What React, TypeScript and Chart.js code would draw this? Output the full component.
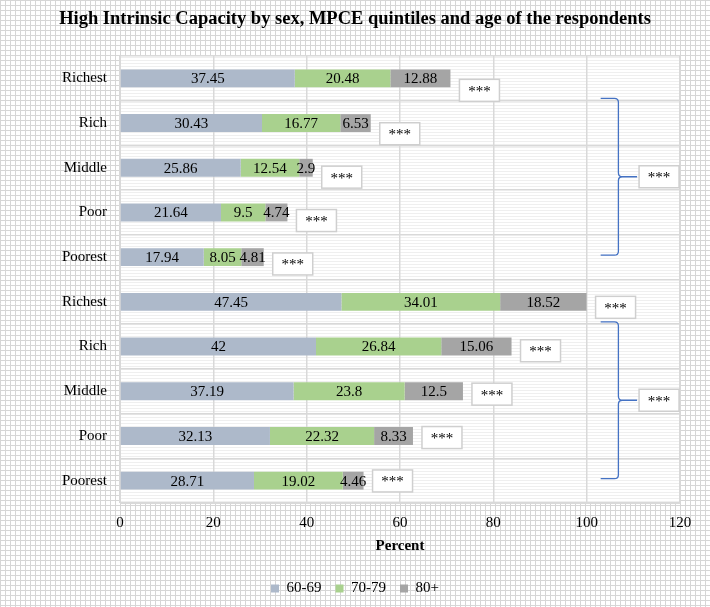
import React, { useEffect, useRef } from 'react';
import { Chart, registerables } from 'chart.js';

Chart.register(...registerables);

// ---------- data ----------
const categories = ['Richest', 'Rich', 'Middle', 'Poor', 'Poorest', 'Richest', 'Rich', 'Middle', 'Poor', 'Poorest'];
const age60to69 = [37.45, 30.43, 25.86, 21.64, 17.94, 47.45, 42, 37.19, 32.13, 28.71];
const age70to79 = [20.48, 16.77, 12.54, 9.5, 8.05, 34.01, 26.84, 23.8, 22.32, 19.02];
const age80plus = [12.88, 6.53, 2.9, 4.74, 4.81, 18.52, 15.06, 12.5, 8.33, 4.46];
const seriesLabels = ['60-69', '70-79', '80+'];
const seriesColors = ['#ADB9CA', '#A9D18E', '#A5A5A5'];
const barSignificance = ['***', '***', '***', '***', '***', '***', '***', '***', '***', '***'];
const groupRanges = [[0, 4], [5, 9]];
const groupSignificance = ['***', '***'];
const xMin = 0;
const xMax = 120;
const xStep = 20;
const titleText = 'High Intrinsic Capacity by sex, MPCE quintiles and age of the respondents';
const xTitleText = 'Percent';

const FONT = '"Liberation Serif", "Times New Roman", serif';

function drawSigBox(ctx: CanvasRenderingContext2D, left: number, cy: number, text: string) {
  const w = 40;
  const h = 22;
  ctx.save();
  ctx.fillStyle = '#ffffff';
  ctx.fillRect(left, cy - h / 2, w, h);
  ctx.strokeStyle = '#cfcfcf';
  ctx.lineWidth = 1.5;
  ctx.strokeRect(left, cy - h / 2, w, h);
  ctx.fillStyle = '#000000';
  ctx.font = `15px ${FONT}`;
  ctx.textAlign = 'center';
  ctx.textBaseline = 'alphabetic';
  ctx.fillText(text, left + w / 2, cy + 5.5);
  ctx.restore();
}

const backgroundPlugin = {
  id: 'paperBackground',
  beforeDraw(chart: any) {
    const { ctx, width, height, chartArea: a } = chart;
    ctx.save();
    ctx.fillStyle = '#ffffff';
    ctx.fillRect(0, 0, width, height);
    ctx.strokeStyle = '#d6d6d6';
    ctx.lineWidth = 1;
    ctx.beginPath();
    for (let x = 0.5; x < width; x += 5) {
      ctx.moveTo(x, 0);
      ctx.lineTo(x, height);
    }
    for (let y = 0.5; y < height; y += 5) {
      ctx.moveTo(0, y);
      ctx.lineTo(width, y);
    }
    ctx.stroke();
    ctx.fillStyle = '#ffffff';
    ctx.fillRect(a.left, a.top, a.right - a.left, a.bottom - a.top);
    ctx.strokeStyle = '#efefef';
    ctx.beginPath();
    for (let y = a.top + 1.5; y < a.bottom; y += 3) {
      ctx.moveTo(a.left, y);
      ctx.lineTo(a.right, y);
    }
    ctx.stroke();
    ctx.restore();
  },
};

const annotationPlugin = {
  id: 'annotations',
  afterDatasetsDraw(chart: any) {
    const { ctx } = chart;
    const xs = chart.scales.x;
    const ys = chart.scales.y;
    ctx.save();
    // value labels
    ctx.font = `15px ${FONT}`;
    ctx.textAlign = 'center';
    ctx.textBaseline = 'middle';
    ctx.fillStyle = '#000000';
    chart.data.datasets.forEach((ds: any, di: number) => {
      const meta = chart.getDatasetMeta(di);
      meta.data.forEach((bar: any, i: number) => {
        const { x, base, y } = bar.getProps(['x', 'base', 'y'], true);
        ctx.fillText(String(ds.data[i]), (x + base) / 2, y + 1);
      });
    });
    ctx.restore();

    // per-bar significance boxes
    categories.forEach((_, i) => {
      const total = age60to69[i] + age70to79[i] + age80plus[i];
      const left = xs.getPixelForValue(total) + 9;
      const cy = ys.getPixelForValue(i) + 12 - i * 1.3;
      drawSigBox(ctx, left, cy, barSignificance[i]);
    });

    // group braces
    groupRanges.forEach(([a, b], g) => {
      const top = ys.getPixelForValue(a) + 20;
      const bottom = ys.getPixelForValue(b) - 2;
      const mid = (top + bottom) / 2;
      const xL = xs.getPixelForValue(103);
      const xV = xs.getPixelForValue(106.8);
      const xT = xs.getPixelForValue(110.8);
      const r = 4;
      ctx.save();
      ctx.strokeStyle = '#4472C4';
      ctx.lineWidth = 1.3;
      ctx.beginPath();
      ctx.moveTo(xL, top);
      ctx.lineTo(xV - r, top);
      ctx.quadraticCurveTo(xV, top, xV, top + r);
      ctx.lineTo(xV, mid - r);
      ctx.quadraticCurveTo(xV, mid, xV + r, mid);
      ctx.lineTo(xT, mid);
      ctx.moveTo(xV + r, mid);
      ctx.quadraticCurveTo(xV, mid, xV, mid + r);
      ctx.lineTo(xV, bottom - r);
      ctx.quadraticCurveTo(xV, bottom, xV - r, bottom);
      ctx.lineTo(xL, bottom);
      ctx.stroke();
      ctx.restore();
      drawSigBox(ctx, xT + 2, mid, groupSignificance[g]);
    });
  },
};

export default function App() {
  const ref = useRef<HTMLCanvasElement>(null);

  useEffect(() => {
    if (!ref.current) return;
    const seriesData = [age60to69, age70to79, age80plus];
    const chart = new Chart(ref.current, {
      type: 'bar',
      data: {
        labels: categories,
        datasets: seriesData.map((d, k) => ({
          label: seriesLabels[k],
          data: d,
          backgroundColor: seriesColors[k],
          borderWidth: 0,
          barPercentage: 0.4,
          categoryPercentage: 1,
        })),
      },
      options: {
        indexAxis: 'y',
        responsive: false,
        animation: false,
        devicePixelRatio: 1,
        layout: { padding: { left: 0, right: 0, top: 0, bottom: 1 } },
        scales: {
          x: {
            stacked: true,
            min: xMin,
            max: xMax,
            ticks: { stepSize: xStep, color: '#000', font: { family: FONT, size: 15 }, padding: 11 },
            grid: { color: '#d9d9d9', lineWidth: 1.5, drawTicks: false },
            border: { color: '#d9d9d9' },
            title: {
              display: true,
              text: xTitleText,
              color: '#000',
              font: { family: FONT, size: 15, weight: 'bold' },
              padding: { top: 0, bottom: 12 },
            },
            afterFit: (s: any) => {
              s.height = 64;
              s.paddingLeft = 0;
              s.paddingRight = 30;
            },
          },
          y: {
            stacked: true,
            ticks: { color: '#000', font: { family: FONT, size: 15 }, padding: 13 },
            grid: { color: '#d9d9d9', lineWidth: 1.5, drawTicks: false, offset: true },
            border: { color: '#d9d9d9' },
            afterFit: (s: any) => {
              s.width = 120;
              s.paddingTop = 0;
              s.paddingBottom = 0;
            },
          },
        },
        plugins: {
          title: {
            display: true,
            text: titleText,
            color: '#000',
            font: { family: FONT, size: 18.5, weight: 'bold' },
            padding: { top: 8, bottom: 25.8 },
          },
          legend: {
            position: 'bottom',
            labels: {
              boxWidth: 8,
              boxHeight: 8,
              color: '#000',
              font: { family: FONT, size: 15 },
              padding: 14,
            },
          },
          tooltip: { enabled: false },
        },
      },
      plugins: [backgroundPlugin, annotationPlugin],
    } as any);
    return () => chart.destroy();
  }, []);

  return (
    <div style={{ position: 'fixed', left: 0, top: 0, width: 710, height: 607 }}>
      <canvas ref={ref} width={710} height={607} style={{ display: 'block', width: 710, height: 607 }} />
    </div>
  );
}
